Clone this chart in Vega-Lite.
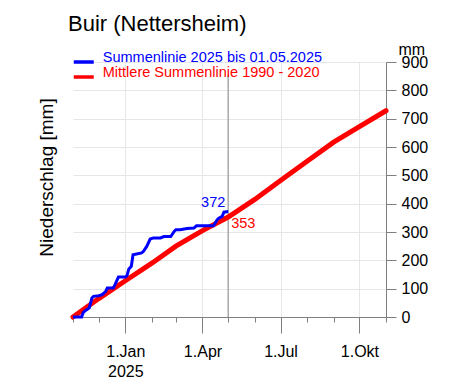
{
  "$schema": "https://vega.github.io/schema/vega-lite/v6.json",
  "autosize": {"type": "none"},
  "width": 313,
  "height": 255,
  "padding": {"left": 73, "top": 62, "right": 64, "bottom": 69},
  "background": "white",
  "config": {
    "font": "Liberation Sans",
    "view": {"stroke": null},
    "axis": {"labelFont": "Liberation Sans", "titleFont": "Liberation Sans"}
  },
  "title": {
    "text": "Buir (Nettersheim)",
    "anchor": "start",
    "frame": "group",
    "fontSize": 22,
    "fontWeight": "normal",
    "font": "Liberation Sans",
    "color": "black",
    "baseline": "alphabetic",
    "dx": -5,
    "offset": 29,
    "dy": 41
  },
  "datasets": {
    "blue": [
      {"date": "2024-11-01", "mm": 0},
      {"date": "2024-11-11", "mm": 0},
      {"date": "2024-11-13", "mm": 16},
      {"date": "2024-11-17", "mm": 26},
      {"date": "2024-11-20", "mm": 32},
      {"date": "2024-11-23", "mm": 67},
      {"date": "2024-11-25", "mm": 73},
      {"date": "2024-12-01", "mm": 75},
      {"date": "2024-12-05", "mm": 79},
      {"date": "2024-12-09", "mm": 90},
      {"date": "2024-12-11", "mm": 102},
      {"date": "2024-12-18", "mm": 102},
      {"date": "2024-12-20", "mm": 114},
      {"date": "2024-12-24", "mm": 141},
      {"date": "2025-01-01", "mm": 141},
      {"date": "2025-01-03", "mm": 146},
      {"date": "2025-01-05", "mm": 169},
      {"date": "2025-01-08", "mm": 179},
      {"date": "2025-01-10", "mm": 220},
      {"date": "2025-01-20", "mm": 226},
      {"date": "2025-01-22", "mm": 231},
      {"date": "2025-01-26", "mm": 249},
      {"date": "2025-01-30", "mm": 275},
      {"date": "2025-02-03", "mm": 279},
      {"date": "2025-02-11", "mm": 279},
      {"date": "2025-02-15", "mm": 284},
      {"date": "2025-02-23", "mm": 284},
      {"date": "2025-02-27", "mm": 302},
      {"date": "2025-03-01", "mm": 308},
      {"date": "2025-03-06", "mm": 308},
      {"date": "2025-03-14", "mm": 312},
      {"date": "2025-03-22", "mm": 314},
      {"date": "2025-03-25", "mm": 322},
      {"date": "2025-04-14", "mm": 322},
      {"date": "2025-04-18", "mm": 343},
      {"date": "2025-04-20", "mm": 349},
      {"date": "2025-04-24", "mm": 355},
      {"date": "2025-04-26", "mm": 370},
      {"date": "2025-05-01", "mm": 372}
    ],
    "red": [
      {"date": "2024-11-01", "mm": 0},
      {"date": "2024-12-01", "mm": 65},
      {"date": "2025-01-01", "mm": 128},
      {"date": "2025-02-01", "mm": 190},
      {"date": "2025-03-01", "mm": 250},
      {"date": "2025-04-01", "mm": 305},
      {"date": "2025-05-01", "mm": 353},
      {"date": "2025-06-01", "mm": 415},
      {"date": "2025-07-01", "mm": 482},
      {"date": "2025-08-01", "mm": 550},
      {"date": "2025-09-01", "mm": 617},
      {"date": "2025-10-01", "mm": 672},
      {"date": "2025-11-01", "mm": 728}
    ],
    "marker": [{"date": "2025-05-01", "y0": 0, "y1": 855}],
    "lblBlue": [{"date": "2025-05-01", "mm": 372, "label": "372"}],
    "lblRed": [{"date": "2025-05-01", "mm": 353, "label": "353"}]
  },
  "resolve": {"axis": {"y": "independent"}},
  "layer": [
    {
      "data": {"name": "marker"},
      "mark": {"type": "rule", "color": "#a8a8a8", "strokeWidth": 1.5},
      "encoding": {
        "x": {
          "field": "date",
          "type": "temporal",
          "scale": {
            "type": "utc",
            "domain": [
              {"year": 2024, "month": 11, "date": 1, "utc": true},
              {"year": 2025, "month": 11, "date": 1, "utc": true}
            ]
          },
          "axis": {
            "title": null,
            "tickCount": {"interval": "month", "step": 1},
            "labelExpr": "utcmonth(datum.value)==0 ? ['1.Jan','2025'] : utcmonth(datum.value)==3 ? '1.Apr' : utcmonth(datum.value)==6 ? '1.Jul' : utcmonth(datum.value)==9 ? '1.Okt' : ''",
            "labelFontSize": 16,
            "labelColor": "black",
            "labelLineHeight": 20,
            "labelPadding": 10,
            "labelOverlap": false,
            "labelFlush": false,
            "labelBound": false,
            "domainColor": "#808080",
            "tickColor": "#808080",
            "tickSize": {"condition": {"test": "utcmonth(datum.value)%3==0", "value": 16}, "value": 5},
            "grid": true,
            "gridColor": "#e6e6e6",
            "gridOpacity": {"condition": {"test": "utcmonth(datum.value)%3==0", "value": 1}, "value": 0}
          }
        },
        "y": {"field": "y0", "type": "quantitative", "axis": null},
        "y2": {"field": "y1"}
      }
    },
    {
      "data": {"name": "red"},
      "transform": [{"calculate": "'Mittlere Summenlinie 1990 - 2020'", "as": "series"}],
      "mark": {"type": "line", "strokeWidth": 5, "strokeCap": "round"},
      "encoding": {
        "x": {"field": "date", "type": "temporal"},
        "y": {
          "field": "mm",
          "type": "quantitative",
          "scale": {"domain": [0, 900], "nice": false},
          "axis": {
            "orient": "right",
            "values": [0, 100, 200, 300, 400, 500, 600, 700, 800, 900],
            "labelFontSize": 16,
            "labelColor": "black",
            "labelPadding": 5,
            "tickSize": 10,
            "tickColor": "#808080",
            "domainColor": "#808080",
            "grid": true,
            "gridColor": "#e6e6e6",
            "title": "mm",
            "titleFontSize": 16,
            "titleFontWeight": "normal",
            "titleColor": "black",
            "titleAngle": 0,
            "titleAlign": "left",
            "titleBaseline": "alphabetic",
            "titleX": 12,
            "titleY": -8
          }
        },
        "color": {
          "field": "series",
          "type": "nominal",
          "scale": {
            "domain": ["Summenlinie 2025 bis 01.05.2025", "Mittlere Summenlinie 1990 - 2020"],
            "range": ["#0000ff", "#ff0000"]
          },
          "legend": {
            "title": null,
            "orient": "none",
            "legendX": 2.75,
            "legendY": -8,
            "padding": 0,
            "symbolType": "M-1.6,0H1.6",
            "symbolSize": 156,
            "symbolStrokeWidth": 3.5,
            "symbolFillColor": "transparent",
            "labelFontSize": 14.5,
            "labelFont": "Liberation Sans",
            "labelBaseline": "alphabetic",
            "labelOffset": 11,
            "rowPadding": -9,
            "labelLimit": 400,
            "encode": {
              "labels": {"update": {"fill": {"scale": "color", "field": "value"}}}
            }
          }
        }
      }
    },
    {
      "data": {"name": "blue"},
      "transform": [{"calculate": "'Summenlinie 2025 bis 01.05.2025'", "as": "series"}],
      "mark": {"type": "line", "strokeWidth": 3, "strokeJoin": "miter"},
      "encoding": {
        "x": {"field": "date", "type": "temporal"},
        "y": {
          "field": "mm",
          "type": "quantitative",
          "axis": {
            "orient": "left",
            "domain": false,
            "ticks": false,
            "labels": false,
            "grid": false,
            "title": "Niederschlag [mm]",
            "titleFontSize": 19,
            "titleFontWeight": "normal",
            "titleColor": "black",
            "titleAngle": -90,
            "titleAlign": "center",
            "titleBaseline": "alphabetic",
            "titleX": -21,
            "titleY": 115
          }
        },
        "color": {"field": "series", "type": "nominal"}
      }
    },
    {
      "data": {"name": "lblBlue"},
      "mark": {"type": "text", "color": "#0000ff", "fontSize": 14.5, "align": "center", "baseline": "alphabetic", "dx": -15, "dy": -5},
      "encoding": {
        "x": {"field": "date", "type": "temporal"},
        "y": {"field": "mm", "type": "quantitative", "axis": null},
        "text": {"field": "label"}
      }
    },
    {
      "data": {"name": "lblRed"},
      "mark": {"type": "text", "color": "#ff0000", "fontSize": 14.5, "align": "left", "baseline": "alphabetic", "dx": 3, "dy": 11},
      "encoding": {
        "x": {"field": "date", "type": "temporal"},
        "y": {"field": "mm", "type": "quantitative", "axis": null},
        "text": {"field": "label"}
      }
    }
  ]
}
